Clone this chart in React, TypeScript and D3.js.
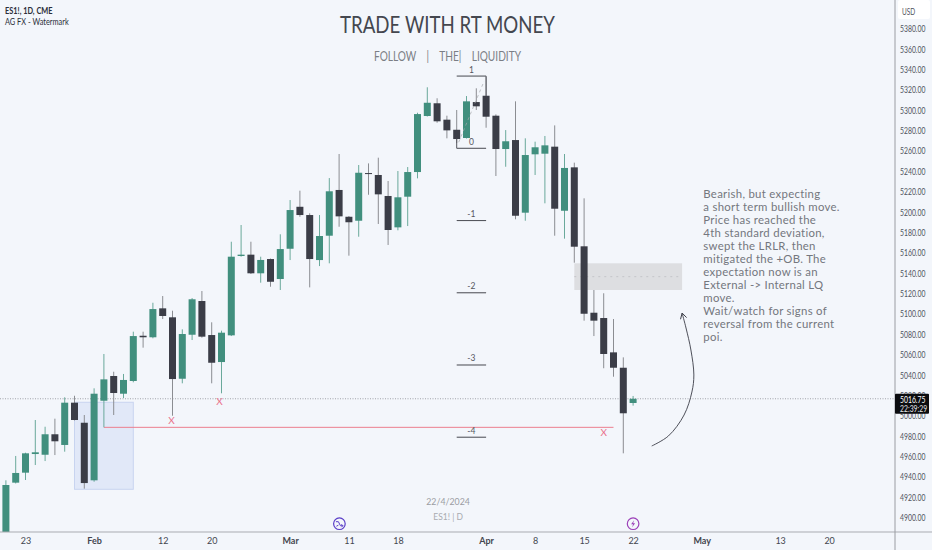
import React, { useRef, useEffect } from 'react';
import * as d3 from 'd3';

const dates = [
  '01-19', '01-22', '01-23', '01-24', '01-25', '01-26', '01-29', '01-30', '01-31',
  '02-01', '02-02', '02-05', '02-06', '02-07', '02-08', '02-09', '02-12', '02-13', '02-14', '02-15', '02-16',
  '02-20', '02-21', '02-22', '02-23', '02-26', '02-27', '02-28', '02-29',
  '03-01', '03-04', '03-05', '03-06', '03-07', '03-08', '03-11', '03-12', '03-13', '03-14', '03-15',
  '03-18', '03-19', '03-20', '03-21', '03-22', '03-25', '03-26', '03-27', '03-28',
  '04-01', '04-02', '04-03', '04-04', '04-05', '04-08', '04-09', '04-10', '04-11', '04-12',
  '04-15', '04-16', '04-17', '04-18', '04-19', '04-22',
  // empty space on the right of the chart
  '04-23', '04-24', '04-25', '04-26', '04-29', '04-30', '05-01', '05-02', '05-03',
  '05-06', '05-07', '05-08', '05-09', '05-10', '05-13', '05-14', '05-15', '05-16', '05-17', '05-20',
];

const opens = [
  4858.5, 4934.4, 4944.2, 4962.5, 4961.8, 4981.9, 4971.4, 5012.9, 4993.2, 4936.7, 5014.8, 5039.1, 5021.7,
  5034.2, 5078.6, 5077.1, 5105.5, 5096.7, 5036.4, 5079.6, 5112.7, 5079.3, 5052.8, 5079.0, 5156.9, 5158.2,
  5139.9, 5153.9, 5134.3, 5164.0, 5205.2, 5197.1, 5152.9, 5176.8, 5221.7, 5195.4, 5191.5, 5238.3, 5236.4,
  5215.8, 5185.0, 5215.1, 5239.3, 5294.3, 5306.8, 5290.7, 5280.8, 5272.7, 5308.0, 5314.2, 5294.6, 5261.9,
  5270.7, 5199.4, 5256.7, 5257.3, 5264.2, 5201.3, 5243.9, 5166.4, 5101.2, 5096.0, 5062.3, 5047.2, 5012.6,
];
const highs = [
  4936.7, 4960.6, 4963.8, 4995.9, 4989.3, 4997.2, 5018.2, 5019.7, 5000.8, 5027.0, 5060.7, 5043.3, 5041.1,
  5082.6, 5082.6, 5111.0, 5117.6, 5103.2, 5084.9, 5115.6, 5122.5, 5091.8, 5083.6, 5170.9, 5187.3, 5170.9,
  5156.2, 5154.4, 5178.2, 5211.8, 5221.0, 5198.8, 5197.1, 5233.4, 5257.0, 5196.1, 5246.2, 5247.8, 5253.4,
  5230.5, 5240.3, 5244.2, 5297.5, 5322.5, 5311.7, 5294.6, 5300.2, 5313.9, 5321.5, 5332.9, 5295.9, 5280.5,
  5308.7, 5272.4, 5269.1, 5274.7, 5285.1, 5257.0, 5248.5, 5213.5, 5123.5, 5120.3, 5095.0, 5057.4, 5019.5,
];
const lows = [
  4853.6, 4933.6, 4937.0, 4951.7, 4955.6, 4961.5, 4964.8, 4995.4, 4928.5, 4935.3, 4988.7, 5000.8, 5017.5,
  5032.9, 5066.9, 5076.1, 5095.0, 5000.1, 5031.9, 5074.4, 5076.7, 5031.9, 5022.1, 5078.3, 5156.2, 5139.2,
  5130.7, 5126.7, 5123.5, 5152.9, 5195.4, 5126.1, 5147.0, 5149.7, 5185.6, 5157.2, 5175.8, 5217.0, 5188.3,
  5167.7, 5182.1, 5186.3, 5233.1, 5293.8, 5287.7, 5272.4, 5267.8, 5272.2, 5300.2, 5282.8, 5235.4, 5244.5,
  5192.9, 5191.5, 5236.4, 5208.6, 5176.8, 5173.9, 5150.3, 5093.4, 5078.3, 5046.7, 5038.4, 4963.2, 5010.0,
];
const closes = [
  4932.1, 4943.9, 4963.2, 4964.2, 4981.9, 4975.0, 5012.9, 4995.9, 4934.0, 5021.7, 5035.8, 5022.4, 5035.2,
  5078.3, 5077.1, 5104.8, 5098.0, 5036.1, 5080.3, 5114.4, 5077.7, 5052.1, 5081.6, 5156.2, 5158.2, 5139.9,
  5153.0, 5131.6, 5163.7, 5202.0, 5197.1, 5153.9, 5176.5, 5220.4, 5195.8, 5190.0, 5238.6, 5237.3, 5217.4,
  5182.4, 5214.5, 5239.3, 5296.2, 5307.3, 5289.1, 5280.2, 5271.7, 5308.7, 5303.8, 5293.6, 5261.9, 5269.5,
  5196.4, 5256.0, 5263.6, 5265.5, 5203.3, 5243.3, 5166.0, 5100.2, 5093.4, 5060.7, 5047.2, 5002.5, 5016.75,
];

const tickDates = ['01-23', '02-01', '02-12', '02-20', '03-01', '03-11', '03-18', '04-01', '04-08', '04-15', '04-22', '05-01', '05-13', '05-20'];
const tickLabels = ['23', 'Feb', '12', '20', 'Mar', '11', '18', 'Apr', '8', '15', '22', 'May', '13', '20'];
const priceTicks = d3.range(4900, 5381, 20);

const lastPrice = 5016.75;
const countdown = '22:39:29';

// std deviation levels of the projection
const fibLabels = ['1', '0', '-1', '-2', '-3', '-4'];
const fibPrices = [5333.5, 5262.6, 5191.7, 5120.8, 5049.9, 4979.0];

// boxes: from, to (dates), top, bottom (prices)
const blueBox = ['01-30', '02-07', 5013.3, 4927.9] as const;
const greyBox = ['04-12', '04-29', 5149.7, 5123.5] as const;

const sweepPrice = 4988.7;
const crossBars = [16.9, 21.8, 61];
const crossPrices = [4995.2, 5014.2, 4983.4];

const arrowBars = [65.9, 67.6, 69.2, 70, 70.2, 69.9, 69.4, 69];
const arrowPrices = [4970.4, 4980.2, 5000.8, 5023.4, 5040.1, 5064.6, 5086.2, 5100.9];

const noteLines = [
  'Bearish, but expecting',
  'a short term bullish move.',
  'Price has reached the',
  '4th standard deviation,',
  'swept the LRLR, then',
  'mitigated the +OB. The',
  'expectation now is an',
  'External -> Internal LQ',
  'move.',
  'Wait/watch for signs of',
  'reversal from the current',
  'poi.',
];

const WIDTH = 932;
const HEIGHT = 550;
const BG = '#f3f6fb';
const UP = '#418f7e';
const DOWN = '#3b3d47';

const App: React.FC = () => {
  const svgRef = useRef<SVGSVGElement | null>(null);

  useEffect(() => {
    if (!svgRef.current) return;
    const svg = d3.select(svgRef.current);
    svg.selectAll('*').remove();

    const axisX = 895;
    const axisY = 532;
    const narrow = 0.72;

    const x = d3.scaleLinear().domain([0, dates.length - 1]).range([5.9, 829.1]);
    const xd = (d: string) => x(dates.indexOf(d));
    const y = d3.scaleLinear().domain([4900, 5380]).range([517.7, 28.7]);

    svg.append('rect').attr('width', WIDTH).attr('height', HEIGHT).attr('fill', BG);

    svg
      .append('defs')
      .append('clipPath')
      .attr('id', 'plot')
      .append('rect')
      .attr('width', axisX)
      .attr('height', axisY);

    const plot = svg.append('g').attr('clip-path', 'url(#plot)');

    // 상자
    plot
      .append('rect')
      .attr('x', xd(blueBox[0]))
      .attr('y', y(blueBox[2]))
      .attr('width', xd(blueBox[1]) - xd(blueBox[0]))
      .attr('height', y(blueBox[3]) - y(blueBox[2]))
      .attr('fill', '#e1e8f8')
      .attr('stroke', '#c8d4f0');
    plot
      .append('rect')
      .attr('x', xd(greyBox[0]))
      .attr('y', y(greyBox[2]))
      .attr('width', xd(greyBox[1]) - xd(greyBox[0]))
      .attr('height', y(greyBox[3]) - y(greyBox[2]))
      .attr('fill', '#dddee1');
    plot
      .append('line')
      .attr('x1', xd(greyBox[0]))
      .attr('x2', xd(greyBox[1]))
      .attr('y1', y((greyBox[2] + greyBox[3]) / 2))
      .attr('y2', y((greyBox[2] + greyBox[3]) / 2))
      .attr('stroke', '#c4c5c9')
      .attr('stroke-dasharray', '2 4');

    // last price line
    plot
      .append('line')
      .attr('x1', 0)
      .attr('x2', axisX)
      .attr('y1', y(lastPrice))
      .attr('y2', y(lastPrice))
      .attr('stroke', '#8f9197')
      .attr('stroke-width', 0.8)
      .attr('stroke-dasharray', '1 1.5');

    // sweep line
    plot
      .append('line')
      .attr('x1', x(10))
      .attr('x2', x(62))
      .attr('y1', y(sweepPrice))
      .attr('y2', y(sweepPrice))
      .attr('stroke', '#ec7f8e');

    // candles
    const bars = d3.range(opens.length);
    const bodyWidth = 7;
    const isUp = (i: number) => closes[i] >= opens[i];

    plot
      .append('g')
      .selectAll('line')
      .data(bars)
      .enter()
      .append('line')
      .attr('x1', (i) => x(i))
      .attr('x2', (i) => x(i))
      .attr('y1', (i) => y(highs[i]))
      .attr('y2', (i) => y(lows[i]))
      .attr('stroke', (i) => (isUp(i) ? '#6aa99b' : '#8b8d92'))
      .attr('stroke-width', 1);

    plot
      .append('g')
      .selectAll('rect')
      .data(bars)
      .enter()
      .append('rect')
      .attr('x', (i) => x(i) - bodyWidth / 2)
      .attr('y', (i) => y(Math.max(opens[i], closes[i])))
      .attr('width', bodyWidth)
      .attr('height', (i) => Math.max(1, Math.abs(y(opens[i]) - y(closes[i]))))
      .attr('fill', (i) => (isUp(i) ? UP : DOWN));

    // fib levels
    const fibFrom = xd('03-26');
    const fibTo = xd('04-01');
    fibPrices.forEach((p, i) => {
      plot
        .append('line')
        .attr('x1', fibFrom)
        .attr('x2', fibTo)
        .attr('y1', y(p))
        .attr('y2', y(p))
        .attr('stroke', '#55575e')
        .attr('stroke-width', 1.1);
      plot
        .append('text')
        .attr('x', (fibFrom + fibTo) / 2)
        .attr('y', y(p) - 3.5)
        .attr('text-anchor', 'middle')
        .attr('font-family', 'Lato')
        .attr('font-size', 8.5)
        .attr('fill', '#55575e')
        .text(fibLabels[i]);
    });
    plot
      .append('line')
      .attr('x1', fibFrom)
      .attr('x2', fibFrom)
      .attr('y1', y(fibPrices[1]))
      .attr('y2', y(5272))
      .attr('stroke', '#55575e');
    plot
      .append('line')
      .attr('x1', fibTo)
      .attr('x2', fibTo)
      .attr('y1', y(fibPrices[0]))
      .attr('y2', y(5314))
      .attr('stroke', '#55575e');
    plot
      .append('line')
      .attr('x1', fibFrom + 2)
      .attr('x2', fibTo - 2)
      .attr('y1', y(fibPrices[1] + 6))
      .attr('y2', y(fibPrices[0] - 5))
      .attr('stroke', '#a5a7ac')
      .attr('stroke-width', 0.7)
      .attr('stroke-dasharray', '3 3');

    // X marks
    crossBars.forEach((b, i) => {
      plot
        .append('text')
        .attr('x', x(b))
        .attr('y', y(crossPrices[i]))
        .attr('text-anchor', 'middle')
        .attr('dy', '0.35em')
        .attr('font-family', 'Lato')
        .attr('font-size', 10)
        .attr('fill', '#e9708a')
        .text('X');
    });

    // arrow
    svg
      .select('defs')
      .append('marker')
      .attr('id', 'head')
      .attr('viewBox', '0 0 10 10')
      .attr('refX', 9)
      .attr('refY', 5)
      .attr('markerWidth', 7)
      .attr('markerHeight', 7)
      .attr('markerUnits', 'userSpaceOnUse')
      .attr('orient', 'auto')
      .append('path')
      .attr('d', 'M1,0.5L9,5L1,9.5')
      .attr('fill', 'none')
      .attr('stroke', '#3b3d47')
      .attr('stroke-width', 1.3);

    const arrow = d3
      .line<number>()
      .x((b) => x(b))
      .y((_, i) => y(arrowPrices[i]))
      .curve(d3.curveCatmullRom);
    plot
      .append('path')
      .attr('d', arrow(arrowBars))
      .attr('fill', 'none')
      .attr('stroke', '#3b3d47')
      .attr('stroke-width', 0.9)
      .attr('marker-end', 'url(#head)');

    // 제목
    svg
      .append('text')
      .attr('x', 340)
      .attr('y', 33)
      .attr('font-family', 'Lato')
      .attr('font-size', 23)
      .attr('fill', '#44474f')
      .attr('textLength', 215)
      .attr('lengthAdjust', 'spacingAndGlyphs')
      .text('TRADE WITH RT MONEY');
    svg
      .append('text')
      .attr('x', 374)
      .attr('y', 60.5)
      .attr('font-family', 'Lato')
      .attr('font-size', 12.5)
      .attr('fill', '#7b7e85')
      .attr('textLength', 147)
      .attr('lengthAdjust', 'spacingAndGlyphs')
      .text('FOLLOW\u00a0\u00a0\u00a0\u00a0|\u00a0\u00a0\u00a0\u00a0THE|\u00a0\u00a0\u00a0\u00a0LIQUIDITY');

    svg
      .append('text')
      .attr('transform', 'translate(5,14) scale(0.82,1)')
      .attr('font-family', 'Lato')
      .attr('font-size', 9)
      .attr('font-weight', 700)
      .attr('fill', '#2a2e39')
      .text('ES1!, 1D, CME');
    svg
      .append('text')
      .attr('transform', 'translate(5,25) scale(0.82,1)')
      .attr('font-family', 'Lato')
      .attr('font-size', 9)
      .attr('fill', '#2a2e39')
      .text('AG FX - Watermark');

    // note
    noteLines.forEach((line, i) => {
      svg
        .append('text')
        .attr('transform', `translate(703.3,${198.3 + i * 12.95}) scale(0.95,1)`)
        .attr('font-family', 'Lato')
        .attr('font-size', 12)
        .attr('letter-spacing', 0.3)
        .attr('fill', '#74777e')
        .text(line);
    });

    // watermark
    svg
      .append('text')
      .attr('x', xd('03-26') - 8.6)
      .attr('y', 505)
      .attr('text-anchor', 'middle')
      .attr('font-family', 'Lato')
      .attr('font-size', 8.8)
      .attr('fill', '#9b9da3')
      .text('22/4/2024');
    svg
      .append('text')
      .attr('x', xd('03-26') - 8.6)
      .attr('y', 520)
      .attr('text-anchor', 'middle')
      .attr('font-family', 'Lato')
      .attr('font-size', 8.5)
      .attr('fill', '#a9abb0')
      .text('ES1! | D');

    // event icons
    const iconY = 523.7;
    const icon = svg.append('g').attr('transform', `translate(${xd('03-11') - 9.5},${iconY})`);
    icon.append('circle').attr('r', 5.8).attr('fill', BG).attr('stroke', '#5a3ec8').attr('stroke-width', 1.2);
    icon
      .append('path')
      .attr('d', 'M-3.5,-2L-1,-2L1,2L3.5,2M2,0.5L3.5,2L2,3.5M-1,1.5L-3,2.5')
      .attr('fill', 'none')
      .attr('stroke', '#5a3ec8')
      .attr('stroke-width', 1);
    const icon2 = svg.append('g').attr('transform', `translate(${xd('04-22')},${iconY})`);
    icon2.append('circle').attr('r', 5.8).attr('fill', BG).attr('stroke', '#9b3fb8').attr('stroke-width', 1.2);
    icon2
      .append('path')
      .attr('d', 'M1,-3.5L-2,0.5L0,0.5L-1,3.5L2,-0.5L0,-0.5Z')
      .attr('fill', '#9b3fb8');

    // 축
    const yAxisG = svg.append('g').attr('transform', `translate(${axisX},0)`);
    yAxisG.call(
      d3
        .axisRight(y)
        .tickValues(priceTicks)
        .tickSize(0)
        .tickFormat((d) => d3.format('.2f')(d as number))
    );
    yAxisG.select('.domain').remove();
    yAxisG
      .selectAll('text')
      .attr('font-family', 'Lato')
      .attr('font-size', 9.5)
      .attr('fill', '#50535e')
      .attr('x', 5 / narrow)
      .attr('transform', `scale(${narrow},1)`);

    const xAxisG = svg.append('g').attr('transform', `translate(0,${axisY})`);
    xAxisG.call(
      d3
        .axisBottom(x)
        .tickValues(tickDates.map((d) => dates.indexOf(d)))
        .tickSize(0)
        .tickPadding(5.5)
        .tickFormat((_, i) => tickLabels[i])
    );
    xAxisG.select('.domain').remove();
    xAxisG
      .selectAll('text')
      .attr('font-family', 'Lato')
      .attr('font-size', 9)
      .attr('font-weight', (_, i) => (/^[A-Z]/.test(tickLabels[i]) ? 700 : 400))
      .attr('fill', '#43464f');

    svg
      .append('line')
      .attr('x1', 0)
      .attr('x2', WIDTH)
      .attr('y1', axisY)
      .attr('y2', axisY)
      .attr('stroke', '#a9abb1');
    svg
      .append('line')
      .attr('x1', axisX)
      .attr('x2', axisX)
      .attr('y1', 0)
      .attr('y2', HEIGHT)
      .attr('stroke', '#9a9ca2');

    // USD box
    svg
      .append('rect')
      .attr('x', 898)
      .attr('y', 0)
      .attr('width', 32)
      .attr('height', 19)
      .attr('rx', 2)
      .attr('fill', '#fff');
    svg
      .append('text')
      .attr('transform', `translate(902,14.5) scale(${narrow},1)`)
      .attr('font-family', 'Lato')
      .attr('font-size', 9)
      .attr('fill', '#50535e')
      .text('USD');

    // last price badge
    svg
      .append('rect')
      .attr('x', axisX)
      .attr('y', y(lastPrice) - 5)
      .attr('width', 34)
      .attr('height', 20)
      .attr('rx', 1)
      .attr('fill', '#0c0d10');
    svg
      .append('text')
      .attr('transform', `translate(900,${y(lastPrice) + 4}) scale(${narrow},1)`)
      .attr('font-family', 'Lato')
      .attr('font-size', 9.5)
      .attr('fill', '#fff')
      .text(d3.format('.2f')(lastPrice));
    svg
      .append('text')
      .attr('transform', `translate(900,${y(lastPrice) + 13}) scale(${narrow},1)`)
      .attr('font-family', 'Lato')
      .attr('font-size', 9.5)
      .attr('fill', '#e4e5e8')
      .text(countdown);
  }, []);

  return (
    <div style={{ position: 'absolute', left: 0, top: 0 }}>
      <svg ref={svgRef} width={WIDTH} height={HEIGHT} style={{ display: 'block' }} />
    </div>
  );
};

export default App;
